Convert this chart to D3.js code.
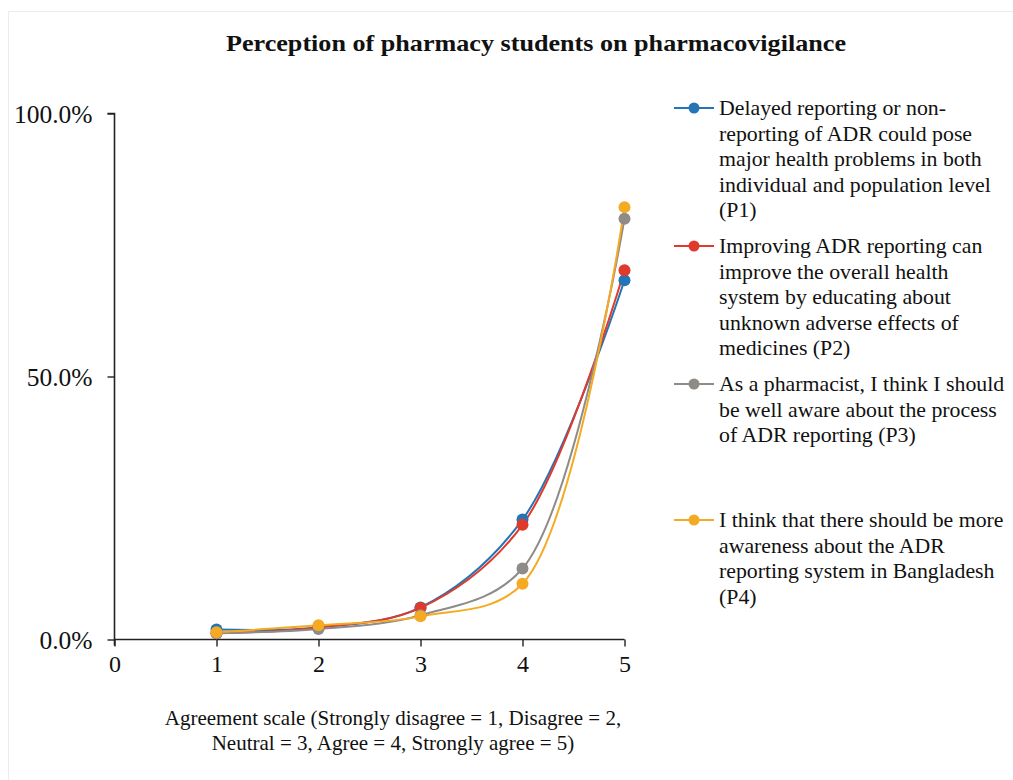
<!DOCTYPE html>
<html><head><meta charset="utf-8">
<script src="https://cdn.jsdelivr.net/npm/d3@7"></script>
<style>
body{margin:0;background:#fff;}
svg{display:block;}
text{font-family:"Liberation Serif","Times New Roman",serif;fill:#111;}
</style></head>
<body><svg id="c" width="1013" height="780"></svg>
<script>
const xValues = [1, 2, 3, 4, 5];
const p1 = [1.9, 2.3, 6.1, 22.8, 68.3];
const p2 = [1.2, 2.3, 6.0, 21.8, 70.2];
const p3 = [1.2, 2.0, 4.6, 13.5, 80.0];
const p4 = [1.4, 2.7, 4.4, 10.6, 82.2];
const seriesNames = [
  ["Delayed reporting or non-", "reporting of ADR could pose", "major health problems in both", "individual and population level", "(P1)"],
  ["Improving ADR reporting can", "improve the overall health", "system by educating about", "unknown adverse effects of", "medicines (P2)"],
  ["As a pharmacist, I think I should", "be well aware about the process", "of ADR reporting (P3)"],
  ["I think that there should be more", "awareness about the ADR", "reporting system in Bangladesh", "(P4)"]
];
const seriesColors = ["#2574b5", "#e03a2c", "#8e8b88", "#f5aa23"];
const xTicks = [0, 1, 2, 3, 4, 5];
const yTicks = [0, 50, 100];
const title = "Perception of pharmacy students on pharmacovigilance";
const xTitle = ["Agreement scale (Strongly disagree = 1, Disagree = 2,", "Neutral = 3, Agree = 4, Strongly agree = 5)"];

const series = [p1, p2, p3, p4];
const svg = d3.select("#c");

// faint border
svg.append("line").attr("x1", 8.5).attr("x2", 1013).attr("y1", 11.5).attr("y2", 11.5).attr("stroke", "#ececec");
svg.append("line").attr("x1", 8.5).attr("x2", 8.5).attr("y1", 11.5).attr("y2", 780).attr("stroke", "#ececec");

const x = d3.scaleLinear().domain([0, 5]).range([114.5, 624.5]);
const y = d3.scaleLinear().domain([0, 100]).range([639.5, 113.5]);

svg.append("text").attr("x", 536).attr("y", 51).attr("text-anchor", "middle")
  .attr("font-weight", "bold").attr("font-size", 23).attr("textLength", 620).attr("lengthAdjust", "spacingAndGlyphs").text(title);

// axes
const yAxis = svg.append("g").attr("transform", `translate(${x(0)},0)`)
  .call(d3.axisLeft(y).tickValues(yTicks).tickSize(7).tickFormat(d => d.toFixed(1) + "%"));
yAxis.select(".domain").attr("stroke", "#222").attr("stroke-width", 1.6).attr("d", `M-7,${y(100)}H0V${y(0)+6}`);
yAxis.selectAll(".tick line").attr("stroke", "#222").attr("stroke-width", 1.4);
yAxis.selectAll(".tick text").attr("font-size", 25.5).attr("x", -22).attr("dy", "0.35em")
  .style("font-family", "Liberation Serif").attr("fill", "#111");

const xAxis = svg.append("g").attr("transform", `translate(0,${y(0)})`)
  .call(d3.axisBottom(x).tickValues(xTicks).tickSize(7).tickFormat(d3.format("d")));
xAxis.select(".domain").attr("stroke", "#222").attr("stroke-width", 1.6).attr("d", `M${x(0)},0H${x(5)}`);
xAxis.selectAll(".tick line").attr("stroke", "#222").attr("stroke-width", 1.4);
xAxis.selectAll(".tick text").attr("font-size", 24).attr("y", 15).attr("dy", "0.71em")
  .style("font-family", "Liberation Serif").attr("fill", "#111");

svg.append("g").selectAll("text").data(xTitle).join("text")
  .attr("x", 393).attr("y", (d, i) => 725 + i * 25).attr("text-anchor", "middle")
  .attr("font-size", 21).text(d => d);

// lines
const line = d3.line().x((d, i) => x(xValues[i])).y(d => y(d)).curve(d3.curveCatmullRom.alpha(0.5));
series.forEach((s, k) => {
  svg.append("path").datum(s).attr("d", line).attr("fill", "none")
    .attr("stroke", seriesColors[k]).attr("stroke-width", 2);
});
series.forEach((s, k) => {
  svg.append("g").selectAll("circle").data(s).join("circle")
    .attr("cx", (d, i) => x(xValues[i])).attr("cy", d => y(d)).attr("r", 6)
    .attr("fill", seriesColors[k]);
});

// legend
const legendTop = [108, 246, 384, 520];
seriesNames.forEach((lines, k) => {
  const g = svg.append("g");
  g.append("line").attr("x1", 674).attr("x2", 714).attr("y1", legendTop[k]).attr("y2", legendTop[k])
    .attr("stroke", seriesColors[k]).attr("stroke-width", 2);
  g.append("circle").attr("cx", 694).attr("cy", legendTop[k]).attr("r", 5.5).attr("fill", seriesColors[k]);
  g.selectAll("text").data(lines).join("text")
    .attr("x", 719).attr("y", (d, i) => legendTop[k] + 7 + i * 25.5)
    .attr("font-size", 21.8).text(d => d);
});
</script></body></html>
